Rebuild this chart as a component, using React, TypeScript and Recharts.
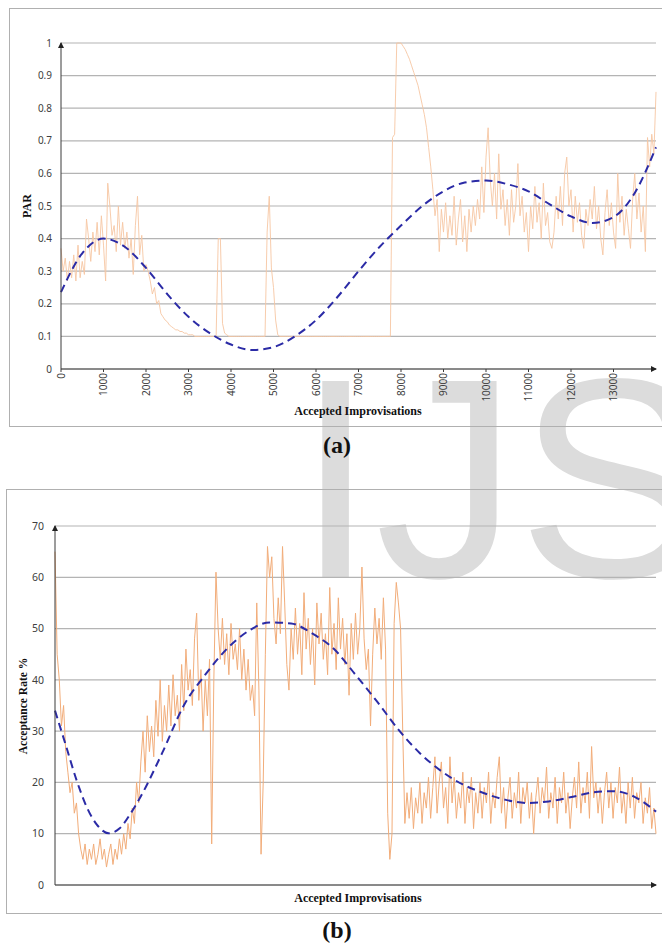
import { LineChart, Line, XAxis, YAxis, CartesianGrid } from "recharts";

// (a) PAR vs accepted improvisations, one reading every 50 improvisations
const PAR_STEP = 50;
const parValues = [
  0.37, 0.30, 0.34, 0.27, 0.33, 0.28, 0.35, 0.27, 0.38, 0.28,
  0.33, 0.29, 0.46, 0.40, 0.33, 0.42, 0.36, 0.45, 0.35, 0.47,
  0.38, 0.27, 0.57, 0.50, 0.41, 0.44, 0.36, 0.50, 0.38, 0.45,
  0.37, 0.42, 0.34, 0.40, 0.29, 0.44, 0.53, 0.35, 0.41, 0.30,
  0.32, 0.30, 0.27, 0.23, 0.25, 0.20, 0.21, 0.17, 0.16, 0.15,
  0.145, 0.135, 0.13, 0.125, 0.12, 0.12, 0.115, 0.115, 0.11, 0.11,
  0.105, 0.105, 0.105, 0.1, 0.1, 0.1, 0.1, 0.1, 0.1, 0.1,
  0.1, 0.1, 0.1, 0.1, 0.4, 0.4, 0.14, 0.11, 0.105, 0.1,
  0.1, 0.1, 0.1, 0.1, 0.1, 0.1, 0.1, 0.1, 0.1, 0.1,
  0.1, 0.1, 0.1, 0.1, 0.1, 0.1, 0.1, 0.42, 0.53, 0.31,
  0.25, 0.15, 0.105, 0.1, 0.1, 0.1, 0.1, 0.1, 0.1, 0.1,
  0.1, 0.1, 0.1, 0.1, 0.1, 0.1, 0.1, 0.1, 0.1, 0.1,
  0.1, 0.1, 0.1, 0.1, 0.1, 0.1, 0.1, 0.1, 0.1, 0.1,
  0.1, 0.1, 0.1, 0.1, 0.1, 0.1, 0.1, 0.1, 0.1, 0.1,
  0.1, 0.1, 0.1, 0.1, 0.1, 0.1, 0.1, 0.1, 0.1, 0.1,
  0.1, 0.1, 0.1, 0.1, 0.1, 0.1, 0.71, 0.72, 1.0, 1.0,
  1.0, 0.99, 0.98, 0.965, 0.95, 0.93, 0.91, 0.89, 0.87, 0.84,
  0.81, 0.78, 0.74, 0.68, 0.62, 0.55, 0.47, 0.52, 0.36, 0.49,
  0.42, 0.51, 0.40, 0.47, 0.41, 0.53, 0.38, 0.46, 0.52, 0.39,
  0.47, 0.36, 0.49, 0.42, 0.50, 0.44, 0.52, 0.46, 0.62, 0.48,
  0.65, 0.74, 0.58, 0.50, 0.60, 0.46, 0.66, 0.49, 0.55, 0.44,
  0.52, 0.41, 0.55, 0.45, 0.50, 0.63, 0.47, 0.53, 0.42, 0.48,
  0.36, 0.50, 0.43, 0.56, 0.45, 0.51, 0.40, 0.57, 0.44, 0.48,
  0.39, 0.37, 0.42, 0.53, 0.46, 0.56, 0.44, 0.60, 0.65, 0.50,
  0.55, 0.42, 0.53, 0.45, 0.51, 0.41, 0.37, 0.49, 0.44, 0.52,
  0.46, 0.56, 0.43, 0.50, 0.40, 0.35, 0.48, 0.55, 0.44, 0.51,
  0.42, 0.37, 0.60, 0.45, 0.53, 0.41, 0.49, 0.43, 0.37, 0.52,
  0.60, 0.46, 0.54, 0.42, 0.50, 0.36, 0.71, 0.62, 0.72, 0.66,
  0.85,
];
const parTrendX = [0, 500, 1000, 1500, 2000, 2500, 3000, 3500, 4000, 4500, 5000, 5500, 6000, 6500, 7000, 7500, 8000, 8500, 9000, 9500, 10000, 10500, 11000, 11500, 12000, 12500, 13000, 13500, 14000];
const parTrendY = [0.236, 0.355, 0.4, 0.375, 0.31, 0.23, 0.16, 0.11, 0.075, 0.058, 0.067, 0.1, 0.15, 0.22, 0.3, 0.375, 0.44, 0.5, 0.545, 0.572, 0.578, 0.567, 0.545, 0.505, 0.468, 0.448, 0.466, 0.54, 0.68];
const parTicksX = [0, 1000, 2000, 3000, 4000, 5000, 6000, 7000, 8000, 9000, 10000, 11000, 12000, 13000];
const parTicksY = [0, 0.1, 0.2, 0.3, 0.4, 0.5, 0.6, 0.7, 0.8, 0.9, 1];

// (b) acceptance rate %, same sampling
const RATE_STEP = 50;
const rateValues = [
  65, 45, 40, 31, 35, 26, 22, 18, 20, 14,
  16, 10, 7, 5, 8, 4, 7, 5, 8, 4,
  6, 9, 5, 7, 3.5, 6, 8, 4, 7, 5,
  9, 6, 10, 7, 12, 9, 15, 12, 20, 16,
  24, 30, 22, 33, 26, 31, 25, 36, 29, 40,
  28, 35, 30, 39, 31, 41, 33, 37, 30, 43,
  34, 46, 38, 42, 35, 48, 53, 36, 42, 30,
  40, 33, 44, 8, 40, 61, 50, 44, 52, 43,
  49, 41, 51, 44, 47, 42, 50, 40, 46, 38,
  44, 36, 39, 33, 55, 38, 6, 20, 45, 66,
  60, 64, 52, 47, 56, 49, 66, 55, 43, 38,
  50, 44, 54, 45, 51, 41, 57, 46, 52, 43,
  50, 39, 55, 47, 53, 44, 49, 41, 58, 45,
  51, 42, 56, 46, 52, 43, 49, 37, 51, 44,
  53, 45, 50, 62, 48, 42, 46, 31, 45, 54,
  47, 52, 44, 56, 46, 14, 5, 10, 51, 59,
  55, 50, 30, 12, 18, 13, 19, 11, 17, 14,
  20, 12, 18, 15, 21, 13, 19, 25, 14, 20,
  24, 15, 19, 12, 25, 16, 21, 13, 18, 15,
  22, 12, 19, 16, 21, 11, 18, 14, 20, 13,
  19, 16, 22, 12, 18, 15, 21, 25, 14, 19,
  11, 17, 21, 13, 18, 15, 22, 12, 19, 16,
  20, 13, 18, 10, 17, 21, 14, 19, 16, 23,
  13, 18, 15, 21, 12, 19, 16, 22, 14, 18,
  11, 17, 21, 15, 24, 14, 19, 16, 22, 13,
  27, 17, 20, 14, 19, 12, 18, 22, 15, 20,
  13, 19, 16, 23, 14, 18, 12, 20, 15, 21,
  13, 18, 16, 20, 12, 17, 14, 19, 11, 15,
  10,
];
const rateTrendX = [0, 250, 500, 750, 1000, 1250, 1500, 1750, 2000, 2500, 3000, 3500, 4000, 4500, 5000, 5500, 6000, 6500, 7000, 7500, 8000, 8500, 9000, 9500, 10000, 10500, 11000, 11500, 12000, 12500, 13000, 13500, 14000];
const rateTrendY = [34, 27.3, 20.5, 15, 11.5, 10.1, 11, 13.8, 17.3, 25.8, 35, 41, 46, 49.5, 51.2, 51, 49, 46, 41, 35.8, 30.3, 25.7, 22.2, 19.6, 17.9, 16.6, 16, 16.3, 17.1, 18, 18.3, 17.2, 14.3];
const rateTicksY = [0, 10, 20, 30, 40, 50, 60, 70];

const ORANGE_A = "#f6c6a3";
const ORANGE_B = "#f2ad7a";
const BLUE = "#2b2ba6";
const GRID = "#b4b4b4";
const AXIS = "#3a3a3a";
const SERIF = "'Liberation Serif', 'Times New Roman', serif";
const SANS = "'Noto Sans', sans-serif";

const parData = parValues.map((v, i) => ({ x: i * PAR_STEP, v }));
const parTrend = parTrendX.map((x, i) => ({ x, t: parTrendY[i] }));
const rateData = rateValues.map((v, i) => ({ x: i * RATE_STEP, v }));
const rateTrend = rateTrendX.map((x, i) => ({ x, t: rateTrendY[i] }));

function RotatedTick(props: any) {
  const { x, y, payload } = props;
  return (
    <text x={x} y={y} transform={`rotate(-90 ${x} ${y})`} textAnchor="end" dy="0.36em" fill="#404040" fontSize={10} fontFamily={SANS}>
      {payload.value}
    </text>
  );
}

function ArrowDefs({ id }: { id: string }) {
  return (
    <defs>
      <marker id={id} markerWidth="6" markerHeight="6" refX="5" refY="3" orient="auto-start-reverse" markerUnits="userSpaceOnUse">
        <path d="M0,0 L6,3 L0,6 z" fill="#222" />
      </marker>
    </defs>
  );
}

const abs = (left: number, top: number): React.CSSProperties => ({ position: "absolute", left, top });

function Title({ x, y, text, rotate, size = 12 }: { x: number; y: number; text: string; rotate?: boolean; size?: number }) {
  return (
    <div
      style={{
        ...abs(x, y),
        transform: `translate(-50%, -50%)${rotate ? " rotate(-90deg)" : ""}`,
        whiteSpace: "nowrap",
        fontFamily: SERIF,
        fontWeight: "bold",
        fontSize: size,
        color: "#111",
        lineHeight: 1,
      }}
    >
      {text}
    </div>
  );
}

export default function App() {
  return (
    <div style={{ position: "absolute", left: 0, top: 0, width: 662, height: 945, background: "#fff", overflow: "hidden" }}>
      {/* watermark */}
      <svg width={662} height={945} style={abs(0, 0)}>
        <text x={296} y={577} fontSize={285} fontFamily="'Liberation Sans', Arial, sans-serif" fill="#dcdcdc">
          IJS
        </text>
      </svg>

      <div style={{ ...abs(9, 8), width: 660, height: 419, border: "1px solid #b0b0b0", boxSizing: "border-box" }} />
      <div style={{ ...abs(6, 489), width: 660, height: 425, border: "1px solid #b0b0b0", boxSizing: "border-box" }} />

      <div style={abs(0, 0)}>
        <LineChart width={662} height={430} margin={{ top: 43, right: 6, bottom: 21, left: 21 }}>
          <ArrowDefs id="arrowA" />
          <CartesianGrid vertical={false} stroke={GRID} strokeWidth={1.2} />
          <XAxis
            dataKey="x"
            type="number"
            domain={[0, 14000]}
            ticks={parTicksX}
            interval={0}
            height={40}
            tickSize={3}
            tickMargin={1}
            tickLine={{ stroke: AXIS }}
            axisLine={{ stroke: AXIS, strokeWidth: 1, markerEnd: "url(#arrowA)" }}
            tick={<RotatedTick />}
          />
          <YAxis
            type="number"
            domain={[0, 1]}
            ticks={parTicksY}
            interval={0}
            width={40}
            tickLine={false}
            tickSize={6}
            tickMargin={3}
            axisLine={{ stroke: AXIS, strokeWidth: 1, markerStart: "url(#arrowA)" }}
            tick={{ fill: "#404040", fontSize: 10, fontFamily: SANS }}
          />
          <Line data={parData} dataKey="v" type="linear" stroke={ORANGE_A} strokeWidth={0.9} dot={false} isAnimationActive={false} />
          <Line data={parTrend} dataKey="t" type="monotone" stroke={BLUE} strokeWidth={2} strokeDasharray="8 5" dot={false} isAnimationActive={false} />
        </LineChart>
      </div>

      <div style={abs(0, 480)}>
        <LineChart width={662} height={430} margin={{ top: 46, right: 6, bottom: 15, left: 15 }}>
          <ArrowDefs id="arrowB" />
          <CartesianGrid vertical={false} stroke={GRID} strokeWidth={1.2} />
          <XAxis
            dataKey="x"
            type="number"
            domain={[0, 14000]}
            height={10}
            tick={false}
            tickLine={false}
            axisLine={{ stroke: AXIS, strokeWidth: 1, markerEnd: "url(#arrowB)" }}
          />
          <YAxis
            type="number"
            domain={[0, 70]}
            ticks={rateTicksY}
            interval={0}
            width={40}
            tickLine={false}
            tickSize={6}
            tickMargin={5}
            axisLine={{ stroke: AXIS, strokeWidth: 1, markerStart: "url(#arrowB)" }}
            tick={{ fill: "#404040", fontSize: 10.5, fontFamily: SANS }}
          />
          <Line data={rateData} dataKey="v" type="linear" stroke={ORANGE_B} strokeWidth={1} dot={false} isAnimationActive={false} />
          <Line data={rateTrend} dataKey="t" type="monotone" stroke={BLUE} strokeWidth={2} strokeDasharray="8 5" dot={false} isAnimationActive={false} />
        </LineChart>
      </div>

      <Title x={27} y={206} text="PAR" rotate />
      <Title x={358} y={411} text="Accepted Improvisations" />
      <Title x={337} y={445} text="(a)" size={24} />

      <Title x={24} y={706} text="Acceptance Rate %" rotate size={11.5} />
      <Title x={358} y={898} text="Accepted Improvisations" />
      <Title x={337} y={930} text="(b)" size={24} />
    </div>
  );
}
